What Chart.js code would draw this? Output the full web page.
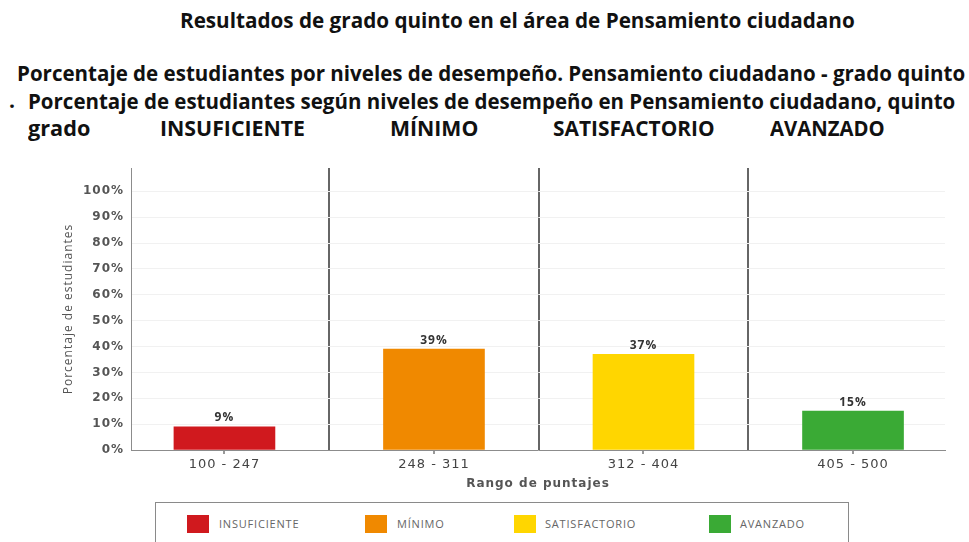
<!DOCTYPE html>
<html lang="es">
<head>
<meta charset="utf-8">
<script src="https://cdn.jsdelivr.net/npm/chart.js@4.4.1/dist/chart.umd.min.js"></script>
<style>
  body { margin: 0; width: 969px; height: 542px; background: #fff; overflow: hidden; position: relative; font-family: 'Open Sans', sans-serif; }
  .t { position: absolute; white-space: nowrap; font-weight: 700; font-size: 21px; line-height: 24px; color: #111; transform-origin: 0 50%; }
  #grafico-wrap { position: absolute; left: 55px; top: 150px; width: 914px; height: 345px; }
  #leyenda { position: absolute; left: 155px; top: 502px; width: 692px; height: 60px; border: 1px solid #8a8a8a; }
  .caja { position: absolute; top: 12px; width: 22px; height: 18px; }
  .txt { position: absolute; top: 12px; font-size: 11px; line-height: 18px; color: #666; letter-spacing: 0.8px; }
</style>
</head>
<body>
<div id="titulos"></div>
<div id="grafico-wrap"><canvas id="grafico"></canvas></div>
<div id="leyenda"></div>
<script>
// datos del gráfico
const rangos = ['100 - 247', '248 - 311', '312 - 404', '405 - 500'];
const niveles = ['INSUFICIENTE', 'MÍNIMO', 'SATISFACTORIO', 'AVANZADO'];
const porcentajes = [9, 39, 37, 15];
const colores = ['#d0191e', '#f08900', '#ffd600', '#3aaa35'];
const ticksY = [0, 10, 20, 30, 40, 50, 60, 70, 80, 90, 100];

// textos de arriba: [texto, left, top, ancho]
const titulos = [
  ['Resultados de grado quinto en el área de Pensamiento ciudadano', 180, 8, 675],
  ['Porcentaje de estudiantes por niveles de desempeño. Pensamiento ciudadano - grado quinto', 17, 61, 948],
  ['.', 9, 88, 0],
  ['Porcentaje de estudiantes según niveles de desempeño en Pensamiento ciudadano, quinto', 28, 89, 927],
  ['grado', 28, 116, 62]
];
const posNiveles = [[160, 145], [390, 88], [553, 162], [770, 115]];
niveles.forEach((n, i) => titulos.push([n, posNiveles[i][0], 116, posNiveles[i][1]]));

const contTitulos = document.getElementById('titulos');
titulos.forEach(([texto, x, y, w]) => {
  const d = document.createElement('div');
  d.className = 't';
  d.textContent = texto;
  d.style.left = x + 'px';
  d.style.top = y + 'px';
  contTitulos.appendChild(d);
  if (w > 0) d.style.transform = 'scaleX(' + (w / d.offsetWidth) + ')';
});

// leyenda en html
const leyenda = document.getElementById('leyenda');
const posLeyenda = [[31, 63], [209, 241], [358, 389], [553, 584]];
niveles.forEach((n, i) => {
  const c = document.createElement('div');
  c.className = 'caja';
  c.style.left = posLeyenda[i][0] + 'px';
  c.style.background = colores[i];
  leyenda.appendChild(c);
  const t = document.createElement('div');
  t.className = 'txt';
  t.style.left = posLeyenda[i][1] + 'px';
  t.textContent = n;
  leyenda.appendChild(t);
});

// espaciado de letras en todo el canvas (los textos del original son espaciados)
const espaciado = {
  id: 'espaciado',
  beforeInit(chart) { chart.ctx.letterSpacing = '1px'; },
  beforeDraw(chart) { chart.ctx.letterSpacing = '1px'; }
};

// etiquetas de porcentaje encima de cada barra
const etiquetas = {
  id: 'etiquetas',
  afterDatasetsDraw(chart) {
    const ctx = chart.ctx;
    const meta = chart.getDatasetMeta(0);
    ctx.save();
    ctx.font = '700 12px "Open Sans"';
    ctx.fillStyle = '#333';
    ctx.textAlign = 'center';
    ctx.textBaseline = 'bottom';
    meta.data.forEach((barra, i) => {
      ctx.fillText(porcentajes[i] + '%', barra.x, barra.y - 3);
    });
    ctx.restore();
  }
};

const esSeparador = ctx => ctx.tick && Math.abs(ctx.tick.value % 1) > 0.1;

new Chart(document.getElementById('grafico'), {
  type: 'bar',
  data: {
    datasets: [{
      data: porcentajes.map((v, i) => ({ x: i, y: v })),
      backgroundColor: colores,
      barThickness: 101
    }]
  },
  options: {
    responsive: true,
    maintainAspectRatio: false,
    animation: false,
    layout: { padding: { top: 18, right: 24, left: 0, bottom: 0 } },
    plugins: { legend: { display: false }, tooltip: { enabled: false } },
    scales: {
      x: {
        type: 'linear',
        offset: false,
        min: -0.446,
        max: 3.439,
        afterBuildTicks: s => { s.ticks = [0, 0.5, 1, 1.5, 2, 2.5, 3].map(v => ({ value: v })); },
        afterFit: s => { s.height = 45; },
        ticks: {
          autoSkip: false,
          maxRotation: 0,
          padding: 3,
          color: '#444',
          font: { family: 'DejaVu Sans', size: 13 },
          callback: v => Number.isInteger(v) ? rangos[v] : ''
        },
        grid: {
          offset: false,
          color: ctx => esSeparador(ctx) ? '#666' : 'transparent',
          lineWidth: 2,
          tickLength: 4,
          tickColor: ctx => esSeparador(ctx) ? 'transparent' : '#999'
        },
        border: { color: '#8c8c8c', width: 1 },
        title: {
          display: true,
          text: 'Rango de puntajes',
          color: '#555',
          font: { family: 'DejaVu Sans', size: 12, weight: 'bold' },
          padding: { top: 0, bottom: 4 }
        }
      },
      y: {
        min: 0,
        max: 109,
        afterBuildTicks: s => { s.ticks = ticksY.map(v => ({ value: v })); },
        afterFit: s => { s.width = 76; },
        ticks: {
          padding: 7,
          color: '#555',
          font: { family: 'DejaVu Sans', size: 12, weight: 'bold' },
          callback: v => v + '%'
        },
        grid: { color: '#f1f1f1', drawTicks: false },
        border: { color: '#8c8c8c', width: 1 },
        title: {
          display: true,
          text: 'Porcentaje de estudiantes',
          color: '#555',
          font: { family: 'Open Sans', size: 12 },
          padding: { top: 6, bottom: 0 }
        }
      }
    }
  },
  plugins: [espaciado, etiquetas]
});
</script>
</body>
</html>
